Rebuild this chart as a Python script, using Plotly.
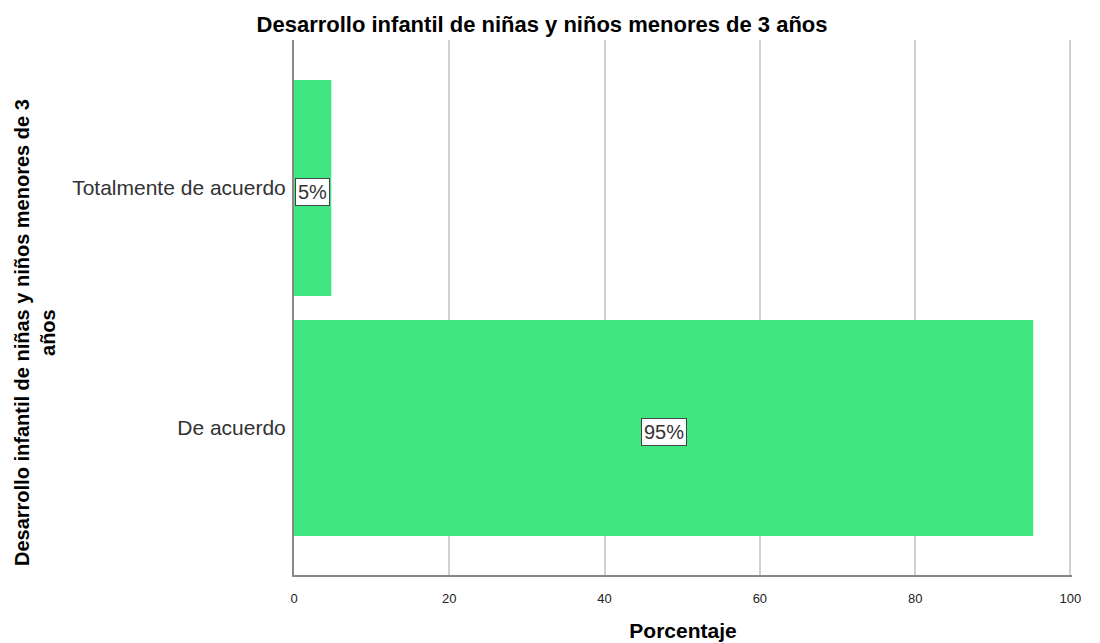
import plotly.graph_objects as go

categorias = ["De acuerdo", "Totalmente de acuerdo"]
porcentajes = [95.2, 4.8]
etiquetas = ["95%", "5%"]
ticks_x = [0, 20, 40, 60, 80, 100]

BAR_COLOR = "#40E67F"
FONT = "Liberation Sans, Arial, sans-serif"

fig = go.Figure()
fig.add_trace(
    go.Bar(
        x=porcentajes,
        y=categorias,
        orientation="h",
        marker=dict(color=BAR_COLOR, line_width=0),
        hoverinfo="x+y",
    )
)

# value labels in white boxes at the middle of each bar
for cat, val, lab in zip(categorias, porcentajes, etiquetas):
    fig.add_annotation(
        x=val / 2,
        y=cat,
        yshift=-4,
        text=lab,
        showarrow=False,
        font=dict(family=FONT, size=20, color="#333333"),
        bgcolor="white",
        bordercolor="#444444",
        borderwidth=1,
        borderpad=2,
    )

# y axis title as rotated annotation (sits a bit below the plot centre)
fig.add_annotation(
    text="<b>Desarrollo infantil de niñas y niños menores de 3<br>años</b>",
    xref="paper",
    yref="paper",
    x=-0.333,
    y=0.454,
    xanchor="center",
    yanchor="middle",
    textangle=-90,
    showarrow=False,
    font=dict(family=FONT, size=20, color="black"),
)

# page body adds 8px, so margins are offset by that
fig.update_layout(
    width=1100,
    height=643,
    margin=dict(l=286, r=36, t=32, b=76),
    paper_bgcolor="white",
    plot_bgcolor="white",
    bargap=0.1,
    showlegend=False,
    font=dict(family=FONT, color="#222222"),
    title=dict(
        text="<b>Desarrollo infantil de niñas y niños menores de 3 años</b>",
        x=0.4855,
        xanchor="center",
        y=0.975,
        yanchor="middle",
        font=dict(size=22, color="black"),
    ),
)
fig.update_xaxes(
    range=[0, 100.2],
    tickvals=ticks_x,
    showgrid=True,
    gridcolor="#D0D0D0",
    gridwidth=2,
    showline=True,
    linecolor="#888888",
    linewidth=2,
    zeroline=False,
    ticks="",
    ticklabelstandoff=10,
    tickfont=dict(size=13, color="#222222"),
    title=dict(text="<b>Porcentaje</b>", font=dict(size=21, color="black"), standoff=19),
)
fig.update_yaxes(
    range=[-0.6125, 1.617],
    automargin=False,
    showgrid=False,
    showline=True,
    linecolor="#888888",
    linewidth=2,
    zeroline=False,
    ticks="",
    ticklabelstandoff=2,
    tickfont=dict(size=21, color="#333333"),
)

fig.write_html("out.html")
